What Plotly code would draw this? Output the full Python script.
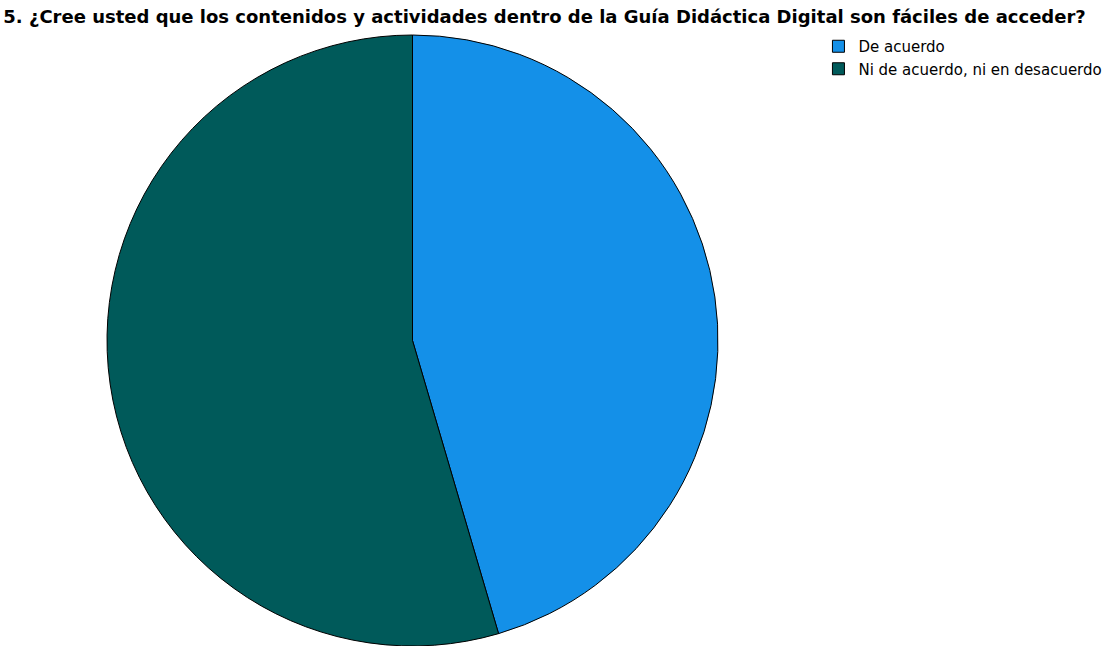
import plotly.graph_objects as go

categories = ["De acuerdo", "Ni de acuerdo, ni en desacuerdo"]
values = [5, 6]
colors = ["#1490E8", "#005A5A"]
title_text = "5. ¿Cree usted que los contenidos y actividades dentro de la Guía Didáctica Digital son fáciles de acceder?"

W, H = 1109, 646
top = 35
radius = 305.5
cx = 412.5

fig = go.Figure(go.Pie(
    labels=categories,
    values=values,
    marker=dict(colors=colors, line=dict(color="black", width=1)),
    sort=False,
    direction="clockwise",
    rotation=0,
    textinfo="none",
    hoverinfo="label+value+percent",
    domain=dict(x=[(cx - radius) / W, (cx + radius) / W], y=[0, 1]),
))

fig.update_layout(
    width=W, height=H,
    margin=dict(l=0, r=0, t=top, b=0),
    paper_bgcolor="white",
    plot_bgcolor="white",
    font=dict(family="DejaVu Sans, Arial, sans-serif", color="black"),
    title=dict(text="<b>" + title_text + "</b>", x=0.003, xanchor="left",
               y=1 - 17 / H, yanchor="middle",
               font=dict(size=18, family="DejaVu Sans, Arial, sans-serif", color="black")),
    legend=dict(x=0.738, xanchor="left", y=1.0 + 5 / 611, yanchor="top",
                font=dict(size=15, color="black", family="DejaVu Sans, Arial, sans-serif"),
                itemwidth=30, tracegroupgap=0,
                bgcolor="rgba(0,0,0,0)"),
    showlegend=True,
)

fig.write_html("out.html")
